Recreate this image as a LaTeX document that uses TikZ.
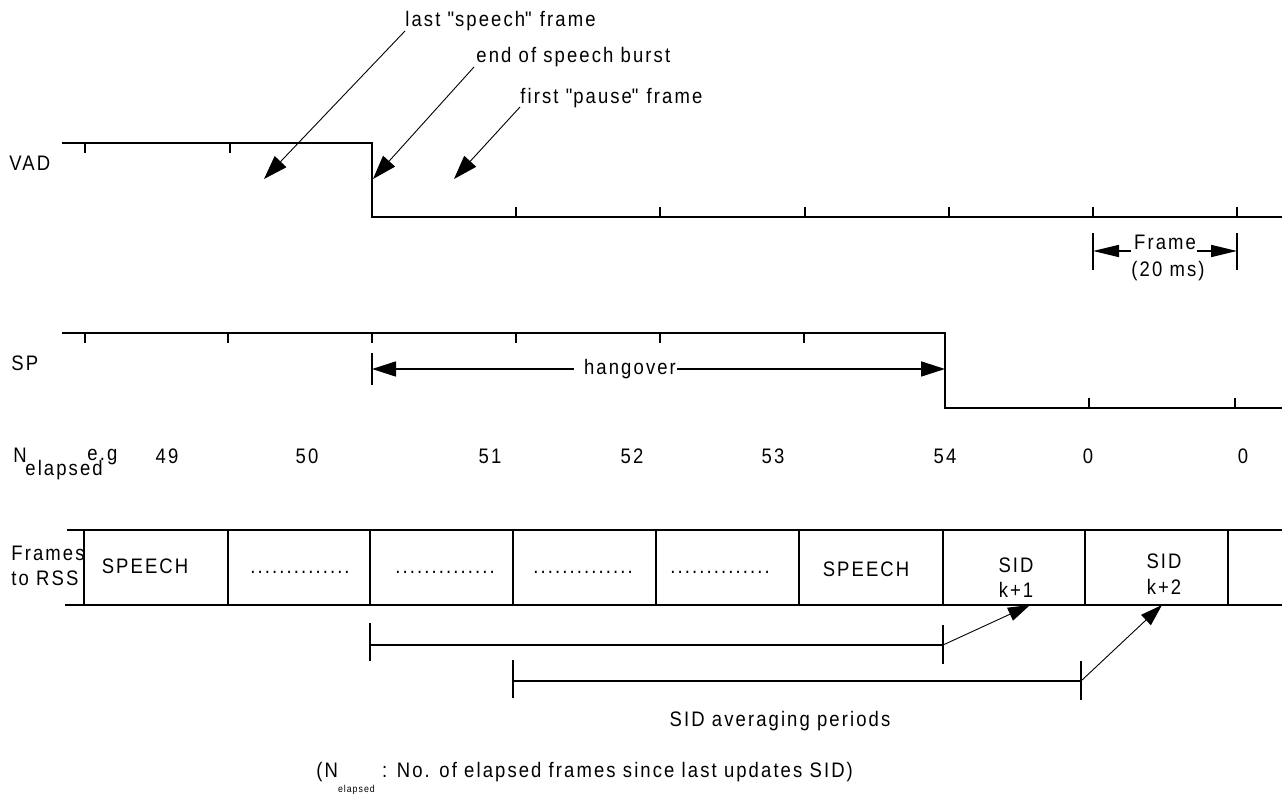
\documentclass[tikz,border=0pt]{standalone}
\usepackage{fontspec}
\setmainfont{Liberation Sans}[FakeStretch=0.88,LetterSpace=10]
\usetikzlibrary{arrows.meta}
\begin{document}
\begin{tikzpicture}[x=0.5pt,y=-0.5pt,
  thickline/.style={line width=1.3pt},
  cellline/.style={line width=1pt},
  thinline/.style={line width=0.45pt},
  midline/.style={line width=0.85pt},
  bartick/.style={line width=0.7pt},
  bigtip/.style={-{Triangle[length=12pt,width=8pt]}},
  hangtip/.style={-{Triangle[length=12pt,width=7.5pt]}},
  frametip/.style={-{Triangle[length=13pt,width=6pt]}},
  sidtip/.style={-{Triangle[length=11pt,width=7pt]}},
  lbl/.style={inner sep=0pt,font=\fontsize{10.5}{12.5}\selectfont},
  tickline/.style={line width=0.8pt}]
\useasboundingbox (0,0) rectangle (1288,801);

% ---------- VAD ----------
\node[lbl,anchor=base west] (vad) at (9,171) {VAD};
\coordinate (v0) at (62,143);
\coordinate (v1) at (372,143);
\coordinate (v2) at (372,217);
\coordinate (v3) at (1282,217);
\draw[thickline] (v0) -- (v1) -- (v2) -- (v3);
\foreach \x in {85,230} \draw[tickline] (\x,143) -- (\x,153);
\foreach \x in {516,660,805,949,1093,1237} \draw[tickline] (\x,217) -- (\x,207);

% annotations
\node[lbl,anchor=base west] (t1) at (405,27) {last \textquotedbl speech\textquotedbl\ frame};
\node[lbl,anchor=base west] (t2) at (476,63) {end of speech burst};
\node[lbl,anchor=base west] (t3) at (520,104) {first \textquotedbl pause\textquotedbl\ frame};
\coordinate (a1s) at (405,31);
\coordinate (a1e) at (264,179);
\coordinate (a2s) at (474,67);
\coordinate (a2e) at (373,179);
\coordinate (a3s) at (520,107);
\coordinate (a3e) at (454,179);
\draw[thinline,bigtip] (a1s) -- (a1e);
\draw[thinline,bigtip] (a2s) -- (a2e);
\draw[thinline,bigtip] (a3s) -- (a3e);

% Frame (20 ms)
\coordinate (fb1t) at (1093,233);
\coordinate (fb1b) at (1093,270);
\coordinate (fb2t) at (1237,233);
\coordinate (fb2b) at (1237,270);
\draw[midline] (fb1t) -- (fb1b);
\draw[midline] (fb2t) -- (fb2b);
\node[lbl,anchor=base] (fr) at (1165,250) {Frame};
\node[lbl,anchor=base] (fms) at (1168,277) {(20 ms)};
\coordinate (frl) at (1131,251);
\coordinate (frr) at (1197,251);
\coordinate (frle) at (1093,251);
\coordinate (frre) at (1237,251);
\draw[midline,frametip] (frl) -- (frle);
\draw[midline,frametip] (frr) -- (frre);

% ---------- SP ----------
\node[lbl,anchor=base west] (sp) at (11,371) {SP};
\coordinate (s0) at (62,333);
\coordinate (s1) at (945,333);
\coordinate (s2) at (945,408);
\coordinate (s3) at (1282,408);
\draw[thickline] (s0) -- (s1) -- (s2) -- (s3);
\foreach \x in {85,228,372,516,660,804} \draw[tickline] (\x,333) -- (\x,343);
\foreach \x in {1089,1235} \draw[tickline] (\x,408) -- (\x,398);

% hangover
\coordinate (hb1) at (372,353);
\coordinate (hb2) at (372,385);
\draw[midline] (hb1) -- (hb2);
\node[lbl,anchor=base] (hang) at (630,375) {hangover};
\coordinate (hl) at (372,369);
\coordinate (hr) at (945,369);
\coordinate (hls) at (574,369);
\coordinate (hrs) at (677,369);
\draw[midline,hangtip] (hls) -- (hl);
\draw[midline,hangtip] (hrs) -- (hr);

% ---------- N elapsed ----------
\node[lbl,anchor=base west] (ne) at (13,462) {N};
\node[lbl,anchor=base west] (nes) at (25,475) {elapsed};
\node[lbl,anchor=base west] (eg) at (87,460) {e.g};
\node[lbl,anchor=base] (n49) at (167,463) {49};
\node[lbl,anchor=base] (n50) at (307,463) {50};
\node[lbl,anchor=base] (n51) at (490,463) {51};
\node[lbl,anchor=base] (n52) at (632,463) {52};
\node[lbl,anchor=base] (n53) at (773,463) {53};
\node[lbl,anchor=base] (n54) at (945,463) {54};
\node[lbl,anchor=base] (n0a) at (1088,463) {0};
\node[lbl,anchor=base] (n0b) at (1243,463) {0};

% ---------- Frames to RSS ----------
\node[lbl,anchor=base west] (frss1) at (11,560) {Frames};
\node[lbl,anchor=base west] (frss2) at (11,585) {to RSS};
\draw[cellline] (67,530) -- (1282,530);
\draw[cellline] (65,605) -- (1282,605);
\foreach \x in {84,228,370,513,656,799,943,1085,1228} \draw[cellline] (\x,530) -- (\x,605);
\node[lbl,anchor=base] (c1) at (145,573) {SPEECH};
\node[lbl,anchor=base] (c2) at (300,573) {..............};
\node[lbl,anchor=base] (c3) at (445,573) {..............};
\node[lbl,anchor=base] (c4) at (583,573) {..............};
\node[lbl,anchor=base] (c5) at (720,573) {..............};
\node[lbl,anchor=base] (c6) at (866,576) {SPEECH};
\node[lbl,anchor=base] (c7a) at (1016,572) {SID};
\node[lbl,anchor=base] (c7b) at (1016,597) {k+1};
\node[lbl,anchor=base] (c8a) at (1164,568) {SID};
\node[lbl,anchor=base] (c8b) at (1164,594) {k+2};
\coordinate (k1) at (1030,605);
\coordinate (k2) at (1162,605);

% ---------- SID averaging periods ----------
\coordinate (p1a) at (370,645);
\coordinate (p1b) at (943,645);
\draw[bartick] (370,623) -- (370,661);
\draw[bartick] (943,625) -- (943,664);
\draw[cellline] (p1a) -- (p1b);
\draw[thinline,sidtip] (p1b) -- (k1);

\coordinate (p2a) at (513,681);
\coordinate (p2b) at (1081,681);
\draw[bartick] (513,660) -- (513,698);
\draw[bartick] (1081,661) -- (1081,700);
\draw[cellline] (p2a) -- (p2b);
\draw[thinline,sidtip] (p2b) -- (k2);

\node[lbl,anchor=base] (sap) at (780,726) {SID averaging periods};
\node[lbl,anchor=base west] (note) at (316,777) {(N\raisebox{-1.4ex}{\fontsize{5}{6}\selectfont elapsed} : No. of elapsed frames since last updates SID)};
\end{tikzpicture}
\end{document}
